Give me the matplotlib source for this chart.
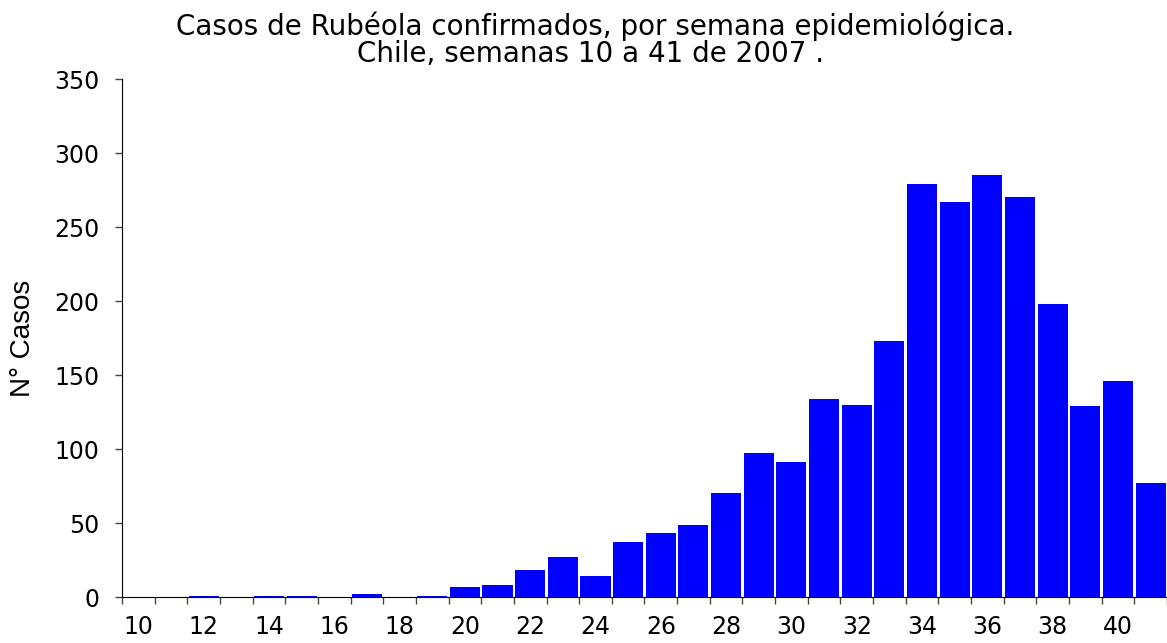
import numpy as np
import matplotlib.pyplot as plt
from matplotlib.ticker import FixedLocator

# Semanas epidemiológicas 10 a 41 (2007)
weeks = list(range(10, 42))
cases = [0, 0, 1, 0, 1, 1, 0, 2, 0, 1,
         7, 8, 18, 27, 14, 37, 43, 49, 70, 97,
         91, 134, 130, 173, 279, 267, 285, 270, 198, 129,
         146, 77]
y_ticks = [0, 50, 100, 150, 200, 250, 300, 350]
x_labels = list(range(10, 41, 2))

title_lines = ['Casos de Rubéola confirmados, por semana epidemiológica.',
               'Chile, semanas 10 a 41 de 2007 .']

fig = plt.figure(figsize=(11.67, 6.43), dpi=100)
ax = fig.add_axes([0.1045, 0.0715, 0.8955, 0.8056])

ax.bar(weeks, cases, width=0.92, color='#0000FF', zorder=2)

ax.set_xlim(9.5, 41.5)
ax.set_ylim(0, 350)

# boundary ticks (Excel style), labels sit between them
ax.xaxis.set_major_locator(FixedLocator(np.arange(9.5, 42, 1)))
ax.xaxis.set_minor_locator(FixedLocator(x_labels))
ax.set_xticklabels([], minor=False)
ax.set_xticklabels([str(w) for w in x_labels], minor=True)
ax.tick_params(axis='x', which='major', direction='out', length=5, width=1,
               color='#444444')
ax.tick_params(axis='x', which='minor', length=0, pad=13, labelsize=17)

ax.set_yticks(y_ticks)
ax.tick_params(axis='y', direction='out', length=5, width=1, pad=11,
               labelsize=17, color='#444444')

for side in ('top', 'right'):
    ax.spines[side].set_visible(False)

ax.set_ylabel('N° Casos', fontsize=20, family='Liberation Sans')
ax.yaxis.set_label_coords(-0.082, 0.5)

fig.text(0.51, 1 - 35 / 643, title_lines[0], ha='center', va='baseline',
         fontsize=20)
fig.text(0.506, 1 - 62 / 643, title_lines[1], ha='center', va='baseline',
         fontsize=20)

fig.savefig('out.png', dpi=100, facecolor='white')
